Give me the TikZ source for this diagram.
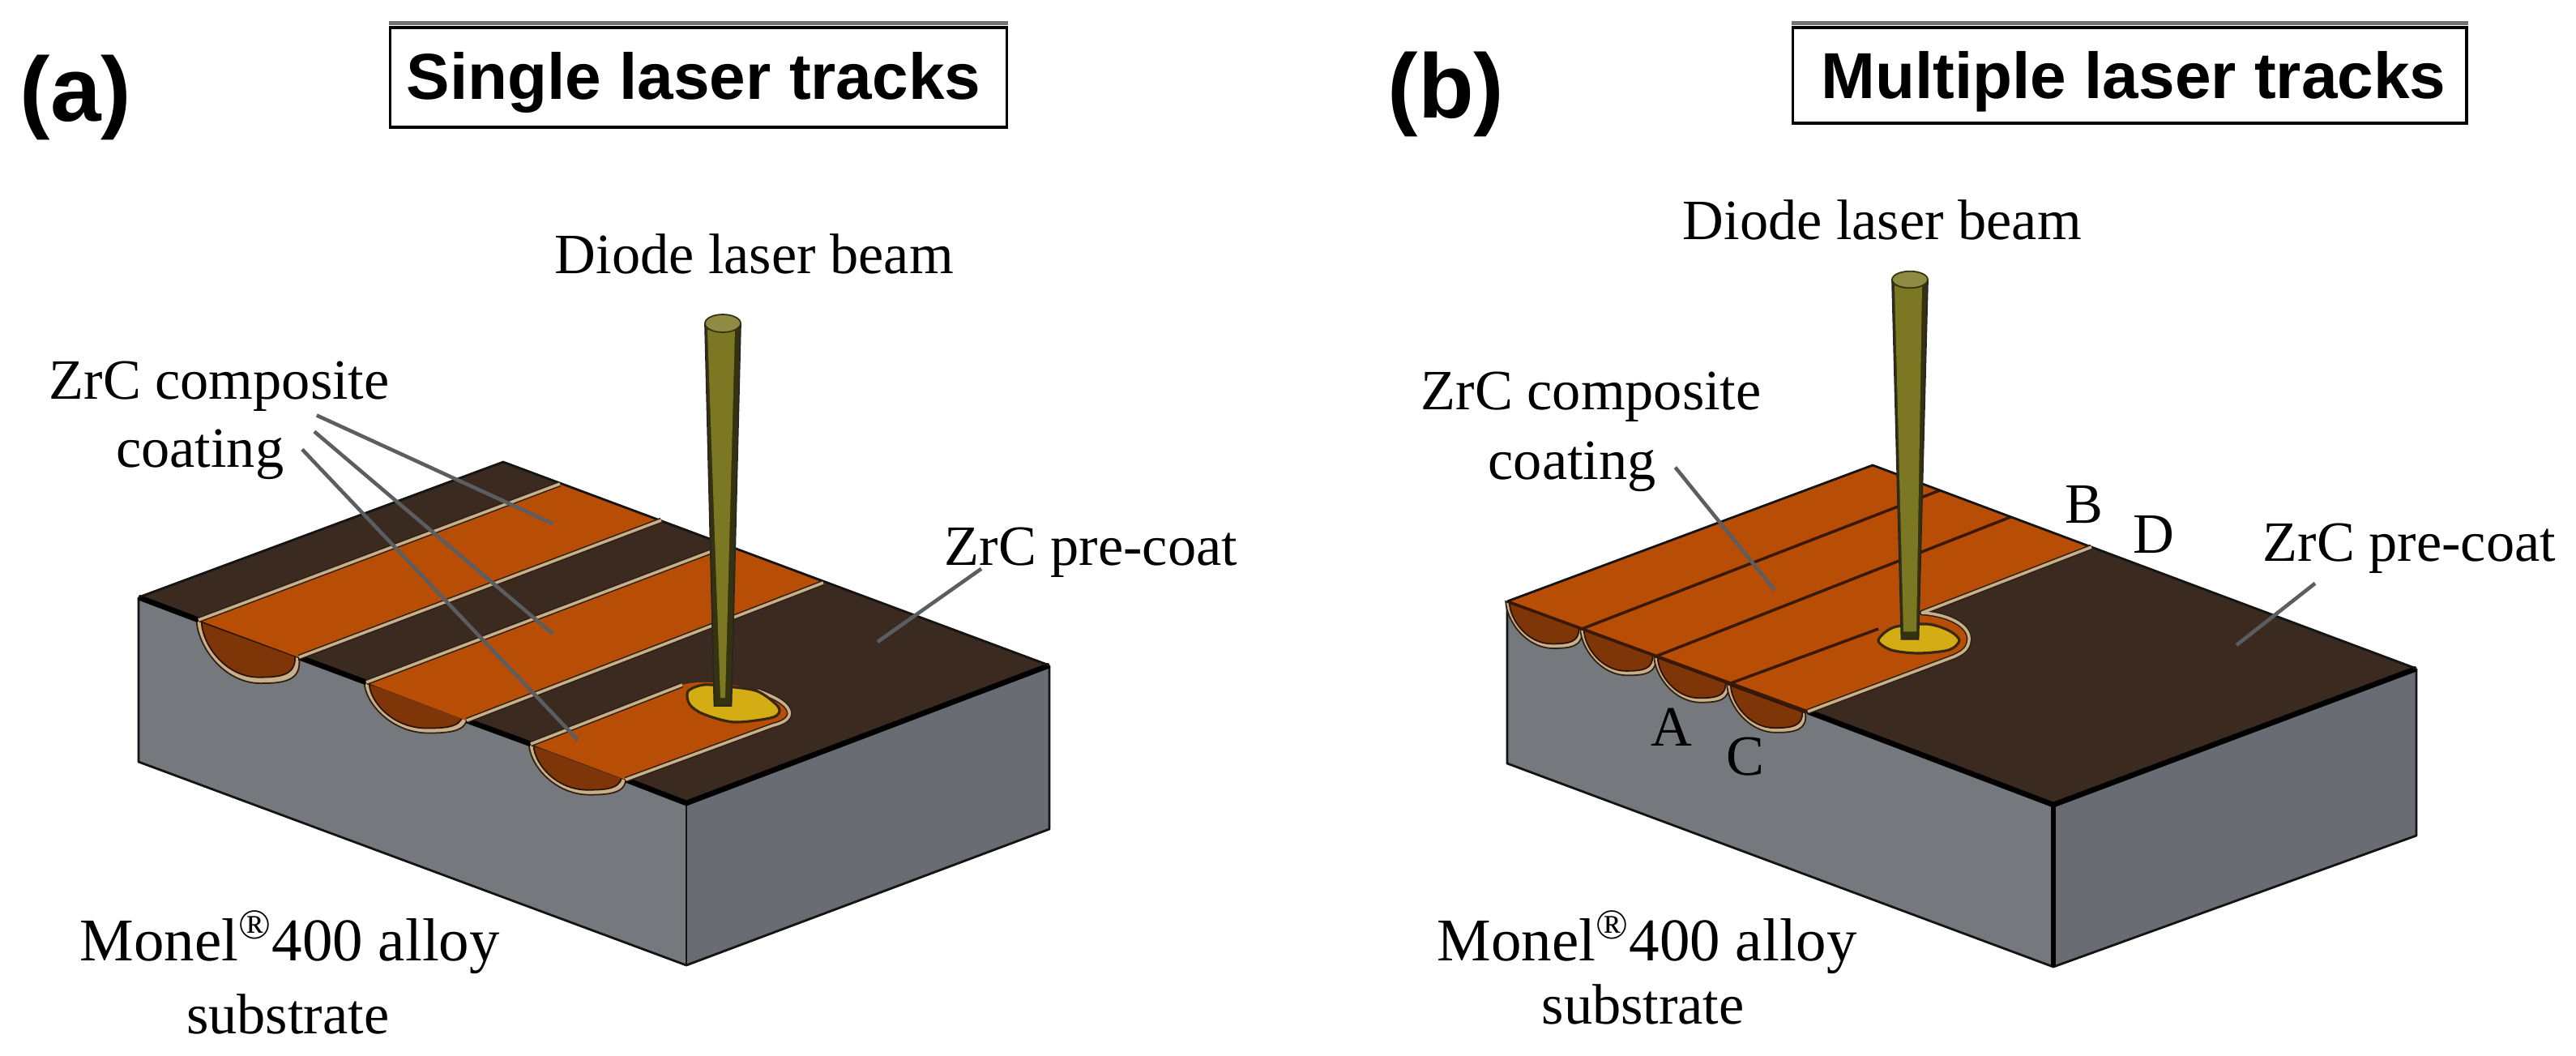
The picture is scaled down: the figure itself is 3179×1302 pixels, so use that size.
\documentclass[tikz,border=0pt]{standalone}
\usepackage{fontspec}
\setmainfont{Liberation Serif}
\newfontfamily\headfont{Liberation Sans}[BoldFont={Liberation Sans Bold}]
\usepackage{tikz}
\usetikzlibrary{positioning}
\definecolor{precoat}{HTML}{3A2A20}
\definecolor{coating}{HTML}{B84D05}
\definecolor{section}{HTML}{7E3508}
\definecolor{cream}{HTML}{C9B08C}
\definecolor{meltpool}{HTML}{D4AC14}
\definecolor{faceleft}{HTML}{75787C}
\definecolor{faceright}{HTML}{696C73}
\definecolor{beamolive}{HTML}{7B7722}
\definecolor{beamdark}{HTML}{35330F}
\definecolor{leadgray}{HTML}{5B5D60}
\tikzset{
    lbl/.style={inner sep=0pt, text height=14pt, text depth=4pt, font=\fontsize{20}{24}\selectfont},
    lblwide/.style={lbl, font=\fontsize{21.3}{24}\selectfont},
    panel/.style={inner sep=0pt, font=\headfont\bfseries\fontsize{32}{36}\selectfont},
    titlebox/.style={draw, line width=1pt, inner sep=0pt, align=center, font=\headfont\bfseries\fontsize{22.8}{26}\selectfont},
    topband/.style={draw=black!55, line width=1.4pt},
    edgethin/.style={draw=black!92, line width=.8pt, line join=round},
    edgethick/.style={draw=black, line width=1.9pt},
    creamline/.style={draw=black!75!brown, double=cream, double distance=1pt, line width=.45pt, line join=round},
    divider/.style={draw=black!55!section, line width=1pt},
    pooledge/.style={fill=meltpool, draw=black!70!brown, line width=.9pt},
    leader/.style={draw=leadgray, line width=1.3pt},
    lobe/.pic={
        \path[fill=cream, draw=black!75!brown, line width=.5pt] (-2,0) .. controls (-1,26) and (25,63) .. (62,63) .. controls (86,63) and (103,60) .. (100,37.5) -- cycle;
        \path[fill=section, draw=black!65!section, line width=.5pt] (3,2) .. controls (4,25) and (27,57) .. (60,57) .. controls (82,57) and (97,55) .. (96,36) -- cycle;
    },
    pics/laserbeam/.style={code={
        \path[fill=beamdark, draw=black!85, line width=.5pt] (-22,0) -- (-10.5,472) -- (10.5,472) -- (22,0) -- cycle;
        \path[fill=beamolive] (-19,8) -- (-#1,462) -- (#1,462) -- (15,8) -- cycle;
        \path[fill=beamolive!85!white, draw=beamdark, line width=.5pt] (0,0) ellipse [x radius=22, y radius=11];
    }}
}
\begin{document}
\begin{tikzpicture}[x=0.01cm, y=-0.01cm]
\useasboundingbox (0,0) rectangle (3179,1302);

\coordinate (backA) at (621,570);
\coordinate (leftA) at (171,737);
\coordinate (frontA) at (847,991);
\coordinate (rightA) at (1295,821);
\coordinate (leftAlow) at (171,940);
\coordinate (frontAlow) at (847,1191);
\coordinate (rightAlow) at (1295,1023);
\path[fill=faceleft] (leftA) -- (frontA) -- (frontAlow) -- (leftAlow) -- cycle;
\path[fill=faceright] (frontA) -- (rightA) -- (rightAlow) -- (frontAlow) -- cycle;
\draw[edgethin] (leftA) -- (leftAlow) -- (frontAlow) -- (rightAlow) -- (rightA);
\draw[edgethin] (frontA) -- (frontAlow);
\foreach \lx/\ly/\lw/\ld in {245/765/1.24/1, 452/842/1.24/.8, 655/918/1.17/.85}
    \pic[xscale=\lw, yscale=\lw*\ld] at (\lx,\ly) {lobe};
\path[fill=precoat] (backA) -- (rightA) -- (frontA) -- (leftA) -- cycle;
\path[fill=coating] (245,765) -- (691,597) -- (816,642) -- (369,811) -- cycle;
\path[fill=coating] (452,842) -- (897,673) -- (1016,719) -- (576,889) -- cycle;
\path[fill=coating] (655,918) -- (842,845) .. controls (880,835) and (940,850) .. (968,869) .. controls (980,880) and (975,890) .. (954,895) -- (772,962) -- cycle;
\draw[edgethick] (leftA) -- (245,765);
\draw[edgethick] (369,811) -- (452,842);
\draw[edgethick] (576,889) -- (655,918);
\draw[edgethick] (772,962) -- (frontA) -- (rightA);
\draw[edgethin] (leftA) -- (backA) -- (rightA);
\draw[creamline] (245,765) -- (691,597);
\draw[creamline] (369,811) -- (816,642);
\draw[creamline] (452,842) -- (897,673);
\draw[creamline] (576,889) -- (1016,719);
\draw[creamline] (655,918) -- (842,845);
\draw[creamline] (772,962) -- (954,895) .. controls (975,890) and (980,880) .. (968,869) .. controls (960,862) and (950,858) .. (935,852);
\draw[pooledge] plot[smooth cycle] coordinates {(849,853) (868,845) (897,847) (935,853) (961,873) (954,885) (906,891) (868,881) (851,869)};
\pic at (892,399) {laserbeam=3};

\coordinate (backB) at (2311,574);
\coordinate (leftB) at (1860,742);
\coordinate (frontB) at (2534,993);
\coordinate (rightB) at (2982,825);
\coordinate (leftBlow) at (1860,942);
\coordinate (frontBlow) at (2534,1193);
\coordinate (rightBlow) at (2982,1031);
\path[fill=faceleft] (leftB) -- (frontB) -- (frontBlow) -- (leftBlow) -- cycle;
\path[fill=faceright] (frontB) -- (rightB) -- (rightBlow) -- (frontBlow) -- cycle;
\draw[edgethin] (leftB) -- (leftBlow) -- (frontBlow) -- (rightBlow) -- (rightB);
\draw[edgethick] (frontB) -- (frontBlow);
\foreach \lx/\ly/\lw in {1860/742/.92, 1952/776/.91, 2043/810/.90, 2133/844/.95}
    \pic[scale=\lw] at (\lx,\ly) {lobe};
\path[fill=precoat] (backB) -- (rightB) -- (frontB) -- (leftB) -- cycle;
\path[fill=coating] (leftB) -- (backB) -- (2581,675) -- (2372,756) .. controls (2405,758) and (2432,772) .. (2430,790) .. controls (2429,802) and (2420,806) .. (2412,810) -- (2231,878) -- cycle;
\draw[divider] (leftB) -- (2231,878);
\draw[divider] (1952,776) -- (2394,605);
\draw[divider] (2043,810) -- (2481,638);
\draw[divider] (2133,844) -- (2318,776);
\draw[edgethick] (2231,878) -- (frontB) -- (rightB);
\draw[edgethin] (leftB) -- (backB) -- (rightB);
\draw[creamline] (2581,675) -- (2372,756) .. controls (2405,758) and (2432,772) .. (2430,790) .. controls (2429,802) and (2420,806) .. (2412,810) -- (2231,878);
\draw[pooledge] plot[smooth cycle] coordinates {(2318,790) (2337,774) (2378,770) (2405,778) (2418,790) (2405,802) (2367,806) (2334,802)};
\pic[yscale=.94] at (2357,345) {laserbeam=8};

\node[panel, anchor=base west] (panelA) at (24,149) {(a)};
\node[panel, anchor=base west] (panelB) at (1712,145) {(b)};
\node[titlebox, minimum width=7.61cm, text height=.88cm, text depth=.35cm, anchor=base] (titleA) at (862,122) {Single laser tracks\hspace*{.12cm}};
\node[titlebox, minimum width=8.31cm, text height=.87cm, text depth=.31cm, anchor=base] (titleB) at (2628,121) {\hspace*{.1cm}Multiple laser tracks};
\draw[topband] ([yshift=.035cm]titleA.north west) -- ([yshift=.035cm]titleA.north east);
\draw[topband] ([yshift=.035cm]titleB.north west) -- ([yshift=.035cm]titleB.north east);

\begin{scope}[every node/.style={lbl}]
    \node[anchor=base west] (diodeA) at (684,337) {Diode laser beam};
    \node[anchor=base west] (compositeA) at (60,492) {ZrC composite};
    \node[below=5.6pt of compositeA, xshift=-.24cm] (coatingA) {coating};
    \node[anchor=base west] (precoatA) at (1165,697) {ZrC pre-coat};
    \node[lblwide, anchor=base west] (monelA) at (98,1185) {Monel\textsuperscript{®}400 alloy};
    \node[below=7.3pt of monelA, xshift=-.025cm] (substrateA) {substrate};

    \node[anchor=base west] (diodeB) at (2076,295) {Diode laser beam};
    \node[anchor=base west] (compositeB) at (1753,505) {ZrC composite};
    \node[below=6.2pt of compositeB, xshift=-.235cm] (coatingB) {coating};
    \node[anchor=base west] (precoatB) at (2792,692) {ZrC pre-coat};
    \node[lblwide, anchor=base west] (monelB) at (1773,1185) {Monel\textsuperscript{®}400 alloy};
    \node[below=3.8pt of monelB, xshift=-.05cm] (substrateB) {substrate};
    \node[anchor=base west] (markA) at (2037,920) {A};
    \node[anchor=base west] (markC) at (2130,956) {C};
    \node[anchor=base west] (markB) at (2548,645) {B};
    \node[anchor=base west] (markD) at (2632,682) {D};
\end{scope}

\coordinate (fanA) at ([shift={(40,-14)}]coatingA.north east);
\coordinate (fanB) at ([shift={(37,6)}]coatingA.north east);
\coordinate (fanC) at ([shift={(22,28)}]coatingA.north east);
\coordinate (trackA) at (682,646);
\coordinate (trackB) at (682,782);
\coordinate (trackC) at (713,913);
\draw[leader] (fanA) -- (trackA);
\draw[leader] (fanB) -- (trackB);
\draw[leader] (fanC) -- (trackC);
\coordinate (coatA) at ([shift={(46,-10)}]precoatA.south west);
\coordinate (coatB) at (1083,792);
\draw[leader] (coatA) -- (coatB);

\coordinate (fanD) at ([shift={(23,35)}]coatingB.north east);
\coordinate (trackD) at (2190,728);
\draw[leader] (fanD) -- (trackD);
\coordinate (coatC) at ([shift={(65,13)}]precoatB.south west);
\coordinate (coatD) at (2760,796);
\draw[leader] (coatC) -- (coatD);
\end{tikzpicture}
\end{document}
